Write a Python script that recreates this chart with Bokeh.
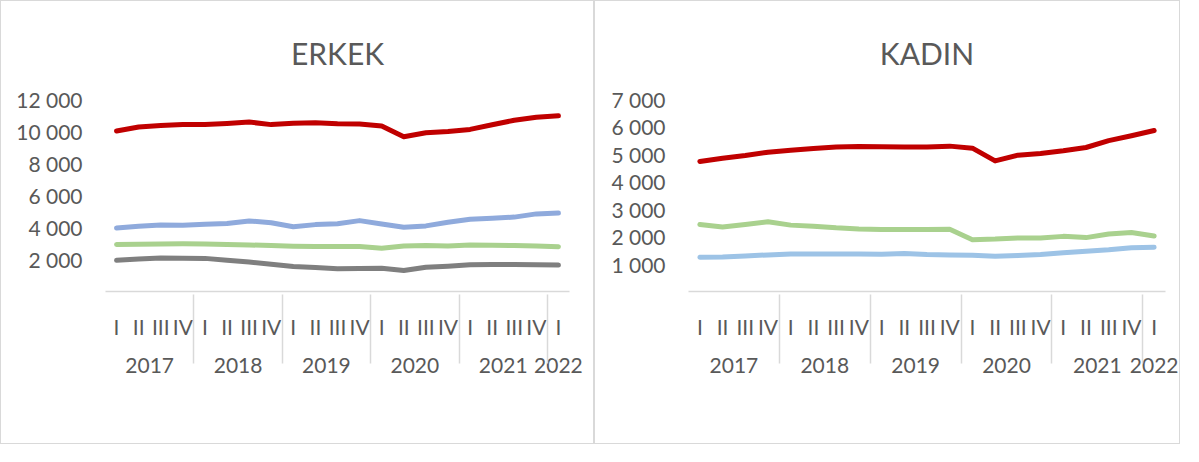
from bokeh.plotting import figure
from bokeh.models import FactorRange, Range1d, FixedTicker, Legend, LegendItem
from bokeh.layouts import row
from bokeh.embed import file_html
from bokeh.resources import INLINE

years = ["2017", "2018", "2019", "2020", "2021", "2022"]
quarters = ["I", "II", "III", "IV"]
periods = [(y, q) for y in years[:-1] for q in quarters] + [("2022", "I")]

erkek_tarim = [2940, 2950, 2970, 2980, 2970, 2940, 2910, 2870, 2830, 2820, 2810,
               2810, 2700, 2850, 2870, 2840, 2900, 2890, 2870, 2840, 2800]
erkek_sanayi = [3970, 4080, 4160, 4140, 4200, 4250, 4410, 4300, 4050, 4180, 4240,
                4430, 4220, 4010, 4100, 4330, 4520, 4580, 4650, 4850, 4900]
erkek_insaat = [1950, 2030, 2090, 2080, 2070, 1960, 1840, 1710, 1560, 1500, 1420,
                1430, 1450, 1310, 1520, 1580, 1670, 1690, 1680, 1670, 1650]
erkek_hizmetler = [10030, 10280, 10380, 10430, 10430, 10500, 10590, 10430, 10510, 10550, 10490,
                   10470, 10340, 9670, 9920, 10000, 10130, 10420, 10700, 10890, 10980]

kadin_tarim = [2440, 2355, 2440, 2540, 2420, 2380, 2320, 2280, 2260, 2260, 2260,
               2270, 1890, 1910, 1950, 1950, 2010, 1965, 2095, 2150, 2020]
kadin_sanayi = [1250, 1260, 1295, 1335, 1370, 1370, 1370, 1370, 1360, 1385, 1345,
                1335, 1320, 1285, 1310, 1345, 1410, 1470, 1520, 1595, 1615]
kadin_hizmetler = [4740, 4860, 4960, 5080, 5150, 5215, 5265, 5290, 5275, 5265, 5265,
                   5300, 5225, 4760, 4970, 5030, 5130, 5250, 5500, 5680, 5870]

erkek_ticks = [2000, 4000, 6000, 8000, 10000, 12000]
erkek_tick_labels = ["2 000", "4 000", "6 000", "8 000", "10 000", "12 000"]
kadin_ticks = [1000, 2000, 3000, 4000, 5000, 6000, 7000]
kadin_tick_labels = ["1 000", "2 000", "3 000", "4 000", "5 000", "6 000", "7 000"]

FONT = "Lato"
TXT = "#595959"
GRID = "#D9D9D9"


def make_panel(title, series, frame_w, mb_left, mb_right, y_max, ticks, tick_labels,
               spacing, leg_x):
    p = figure(x_range=FactorRange(*periods, factor_padding=0, group_padding=0,
                                   subgroup_padding=0, range_padding=0),
               y_range=Range1d(0, y_max), frame_width=frame_w, frame_height=190,
               output_backend="svg", toolbar_location=None,
               min_border_left=mb_left, min_border_right=mb_right,
               min_border_top=98, min_border_bottom=154,
               styles={"border": "1px solid #D9D9D9"})
    p.outline_line_color = None
    p.xgrid.visible = False
    p.ygrid.visible = False

    p.title.text = title
    p.title.align = "center"
    p.title.vertical_align = "middle"
    p.title.text_font = FONT
    p.title.text_font_size = "30px"
    p.title.text_font_style = "normal"
    p.title.text_color = TXT
    p.title.standoff = 56

    ya = p.yaxis[0]
    ya.ticker = FixedTicker(ticks=ticks)
    ya.major_label_overrides = dict(zip(ticks, tick_labels))
    ya.axis_line_color = None
    ya.major_tick_line_color = None
    ya.minor_tick_line_color = None
    ya.major_label_standoff = 17
    ya.major_label_text_font = FONT
    ya.major_label_text_font_size = "21px"
    ya.major_label_text_color = TXT

    xa = p.xaxis[0]
    xa.axis_line_color = GRID
    xa.axis_line_width = 1.5
    xa.major_tick_line_color = None
    xa.minor_tick_line_color = None
    xa.major_label_standoff = 16
    xa.major_label_text_font = FONT
    xa.major_label_text_font_size = "21px"
    xa.major_label_text_color = TXT
    xa.group_text_font = FONT
    xa.group_text_font_size = "21px"
    xa.group_text_font_style = "normal"
    xa.group_text_color = TXT
    xa.separator_line_color = GRID
    xa.separator_line_width = 1.5

    items = []
    for name, vals, color in series:
        r = p.line(x=periods, y=vals, line_color=color, line_width=5,
                   line_cap="round", line_join="round")
        items.append(LegendItem(label=name, renderers=[r]))
    leg = Legend(items=items, orientation="horizontal", location=(leg_x, -146),
                 glyph_width=55, glyph_height=20, label_standoff=3, spacing=spacing,
                 label_text_font=FONT, label_text_font_size="22px", label_text_color=TXT,
                 border_line_color=None, background_fill_alpha=0, padding=4)
    p.add_layout(leg)
    return p


p1 = make_panel("ERKEK",
                [("Tarım", erkek_tarim, "#A9D18E"),
                 ("Sanayi", erkek_sanayi, "#8FAADC"),
                 ("İnşaat", erkek_insaat, "#7F7F7F"),
                 ("Hizmetler", erkek_hizmetler, "#C00000")],
                462, 104, 26, 12000, erkek_ticks, erkek_tick_labels, 9, -68)
p2 = make_panel("KADIN",
                [("Tarım", kadin_tarim, "#A9D18E"),
                 ("Sanayi", kadin_sanayi, "#9DC3E6"),
                 ("Hizmetler", kadin_hizmetler, "#C00000")],
                475, 93, 16, 7000, kadin_ticks, kadin_tick_labels, 26, -12)

layout = row(p1, p2, spacing=0)
open("out.html", "w").write(file_html(layout, INLINE))
